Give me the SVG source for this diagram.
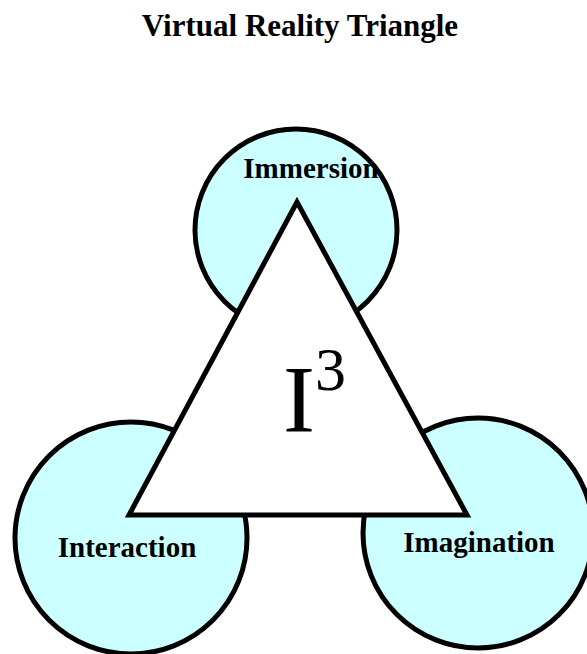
<svg xmlns="http://www.w3.org/2000/svg" width="587" height="654" viewBox="0 0 587 654">
<style>
.c{fill:#ccffff;stroke:#000;stroke-width:5}
.t{fill:#fff;stroke:#000;stroke-width:5;stroke-linejoin:miter}
.lbl{font-family:"Liberation Serif","Times New Roman",serif;font-weight:bold;font-size:29px;fill:#000;text-anchor:middle}
.big{font-family:"Liberation Serif","Times New Roman",serif;fill:#000}
</style>
<rect width="587" height="654" fill="#fff"/>
<text class="lbl" x="300" y="36" style="font-size:31px">Virtual Reality Triangle</text>
<g id="immersion">
<circle class="c" cx="296" cy="230" r="101"/>
</g>
<g id="interaction">
<circle class="c" cx="131" cy="538" r="116"/>
</g>
<g id="imagination">
<circle class="c" cx="478" cy="533" r="115"/>
</g>
<g id="triangle">
<polygon class="t" points="297,202 129,515 467,515"/>
<text class="big" x="283" y="432" style="font-size:96px">I</text>
<text class="big" x="315" y="390" style="font-size:62px">3</text>
</g>
<g id="labels">
<text class="lbl" x="311" y="178">Immersion</text>
<text class="lbl" x="127" y="557">Interaction</text>
<text class="lbl" x="479" y="552">Imagination</text>
</g>
<g id="connectors"></g>
</svg>
